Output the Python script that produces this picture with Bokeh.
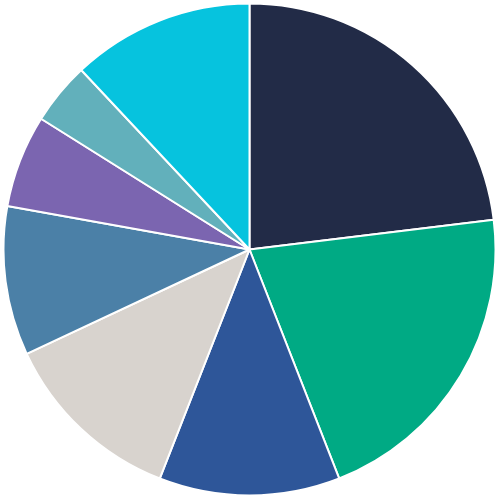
import math
from bokeh.plotting import figure
from bokeh.models import ColumnDataSource, Range1d
from bokeh.embed import file_html
from bokeh.resources import INLINE

categories = ["A", "B", "C", "D", "E", "F", "G", "H"]
values = [23.1, 21.0, 11.9, 12.1, 9.8, 6.1, 4.1, 12.0]
colors = ["#222b47", "#00aa84", "#2e5699", "#d8d3ce", "#4b80a7", "#7b65b0", "#62b0bb", "#06c3de"]

total = sum(values)
starts, ends = [], []
acc = 0.0
for v in values:
    starts.append(math.pi / 2 - 2 * math.pi * acc / total)
    acc += v
    ends.append(math.pi / 2 - 2 * math.pi * acc / total)

src = ColumnDataSource(dict(cat=categories, val=values, start=starts, end=ends, color=colors))

p = figure(width=498, height=498, output_backend="svg", toolbar_location=None,
           x_range=Range1d(-1, 1), y_range=Range1d(-1, 1), min_border=0)
p.wedge(x=0, y=0, radius=0.988, radius_units="data", start_angle="start", end_angle="end",
        direction="clock", fill_color="color", line_color="white", line_width=2, source=src)
p.axis.visible = False
p.grid.visible = False
p.outline_line_color = None
p.background_fill_color = "white"
p.border_fill_color = "white"

open("out.html", "w").write(file_html(p, INLINE))
